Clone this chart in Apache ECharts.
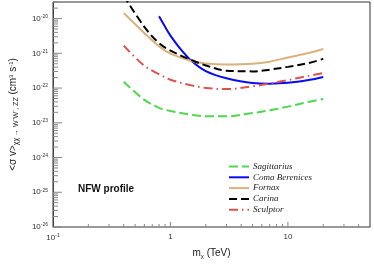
<!DOCTYPE html>
<html><head><meta charset="utf-8">
<script src="https://cdn.jsdelivr.net/npm/echarts@6/dist/echarts.min.js"></script>
<style>html,body{margin:0;padding:0;background:#fff}#c{width:374px;height:267px}</style>
</head><body><div id="c"></div>
<script>
const massMain = [0.4, 0.6, 0.8, 1, 1.5, 2, 3, 5, 7, 10, 15, 20];
const massComa = [0.8, 0.9, 1, 1.2, 1.5, 2, 3, 5, 7, 10, 15, 20];
const sagittarius = [1.51e-22, 4.57e-23, 2.69e-23, 2.19e-23, 1.7e-23, 1.55e-23, 1.53e-23, 1.91e-23, 2.29e-23, 2.92e-23, 3.98e-23, 4.82e-23];
const comaBerenices = [1.17e-20, 5.83e-21, 3.24e-21, 1.42e-21, 6.21e-22, 3.07e-22, 1.91e-22, 1.39e-22, 1.34e-22, 1.41e-22, 1.7e-22, 2.09e-22];
const fornax = [1.45e-20, 3.8e-21, 1.58e-21, 9.77e-22, 6.03e-22, 5.13e-22, 4.79e-22, 5.01e-22, 5.75e-22, 7.59e-22, 1.02e-21, 1.33e-21];
const carina = [4.57e-20, 5.75e-21, 1.95e-21, 1.2e-21, 6.46e-22, 4.47e-22, 3.16e-22, 3.02e-22, 3.39e-22, 4.07e-22, 5.25e-22, 6.92e-22];
const sculptor = [1.66e-21, 4.37e-22, 2.51e-22, 1.74e-22, 1.2e-22, 1.01e-22, 9.33e-23, 1.12e-22, 1.35e-22, 1.7e-22, 2.24e-22, 2.71e-22];
const seriesNames = ['Sagittarius', 'Coma Berenices', 'Fornax', 'Carina', 'Sculptor'];
const yMajor = [1e-26, 1e-25, 1e-24, 1e-23, 1e-22, 1e-21, 1e-20];
const xMajor = [0.1, 1, 10];
const xRange = [0.1, 50];
const yRange = [1e-26, 3e-20];

const yMinor = [];
for (let e = -26; e <= -20; e++) for (let k = 2; k <= 9; k++) { const v = k * Math.pow(10, e); if (v < yRange[1]) yMinor.push(v); }
const xMinor = [];
for (let e = -1; e <= 1; e++) for (let k = 2; k <= 9; k++) { const v = k * Math.pow(10, e); if (v < xRange[1]) xMinor.push(v); }

const pair = (xs, ys) => xs.map((x, i) => [x, ys[i]]);
const isPow = v => Math.abs(Math.log10(v) - Math.round(Math.log10(v))) < 1e-6;
const supText = v => { if (!isPow(v)) return ''; const e = Math.round(Math.log10(v)); return e === 0 ? '1' : (e === 1 ? '10' : '{b|10}{s|' + e + '}'); };

// tick marks: [axis, value, length]
const tickData = []
  .concat(yMajor.map(v => ['y', v, 9]))
  .concat(yMinor.map(v => ['y', v, 5]))
  .concat(xMajor.slice(1).map(v => ['x', v, 5]))
  .concat(xMinor.map(v => ['x', v, 3]));

const chart = echarts.init(document.getElementById('c'), null, {renderer: 'canvas'});
const F = 'Liberation Sans, Arial, sans-serif';
const mk = (name, data, color, type) => ({
  name, type: 'line', data, smooth: 0.35, showSymbol: false, symbol: 'none', clip: true, z: 3,
  lineStyle: {color, width: 2, type}, itemStyle: {color}
});
const richLab = {b: {fontSize: 8, fontFamily: F, color: '#333'}, s: {fontSize: 5, fontFamily: F, color: '#333', verticalAlign: 'top', padding: [0, 0, 4, 0]}};
chart.setOption({
  animation: false,
  grid: {left: 48, right: 4, top: 2, bottom: 40, show: true, borderColor: '#333', borderWidth: 1},
  legend: {
    data: seriesNames, orient: 'vertical', left: 223, top: 157, itemWidth: 20, itemHeight: 8, itemGap: 1.8,
    itemStyle: {opacity: 0},
    textStyle: {fontFamily: 'Liberation Serif', fontStyle: 'italic', fontSize: 9, color: '#222', padding: [0, 0, 0, -1]}
  },
  xAxis: {
    type: 'log', logBase: 10, min: xRange[0], max: xRange[1],
    axisLine: {lineStyle: {color: '#999'}},
    axisTick: {show: false},
    axisLabel: {customValues: xMajor, fontFamily: F, fontSize: 8, color: '#333', margin: 6, formatter: supText, rich: richLab},
    splitLine: {show: false},
    name: 'm{s|χ} (TeV)', nameLocation: 'middle', nameGap: 20,
    nameTextStyle: {fontFamily: F, fontSize: 10, color: '#222', rich: {s: {fontSize: 6, fontFamily: F, color: '#222', padding: [6, 0, 0, 0]}}}
  },
  yAxis: {
    type: 'log', logBase: 10, min: yRange[0], max: yRange[1],
    axisLine: {lineStyle: {color: '#444'}},
    axisTick: {show: false},
    axisLabel: {customValues: yMajor, margin: 5, formatter: supText, rich: richLab},
    splitLine: {show: false},
    name: '<σ v>{s|χχ → W⁺W⁻, ZZ} (cm{u|3} s{u|-1})', nameLocation: 'middle', nameGap: 33,
    nameTextStyle: {fontFamily: F, fontSize: 10, color: '#222',
      rich: {s: {fontSize: 7, fontFamily: F, color: '#222', padding: [6, 0, 0, 0]}, u: {fontSize: 6, fontFamily: F, color: '#222', padding: [0, 0, 5, 0]}}}
  },
  graphic: [{type: 'text', left: 78, top: 184, style: {text: 'NFW profile', font: 'bold 10px ' + F, fill: '#111'}}],
  series: [
    mk('Sagittarius', pair(massMain, sagittarius), '#4fd84f', [9, 4]),
    mk('Coma Berenices', pair(massComa, comaBerenices), '#0a0af5', 'solid'),
    mk('Fornax', pair(massMain, fornax), '#d9b27e', 'solid'),
    mk('Carina', pair(massMain, carina), '#000000', [8, 4]),
    mk('Sculptor', pair(massMain, sculptor), '#d9534f', [9, 4, 1.5, 4]),
    {
      type: 'custom', coordinateSystem: 'cartesian2d', silent: true, clip: false, z: 4,
      data: tickData.map(t => t[0] === 'y' ? [xRange[0], t[1], t[2]] : [t[1], yRange[0], t[2]]),
      dimensions: ['x', 'y', 'len'],
      renderItem: (params, api) => {
        const t = tickData[params.dataIndex];
        const p = api.coord([api.value(0), api.value(1)]);
        const len = api.value(2);
        const shape = t[0] === 'y' ? {x1: p[0], y1: p[1], x2: p[0] + len, y2: p[1]} : {x1: p[0], y1: p[1], x2: p[0], y2: p[1] - len};
        return {type: 'line', shape, style: {stroke: '#888', lineWidth: 1}};
      }
    }
  ]
});
</script></body></html>
